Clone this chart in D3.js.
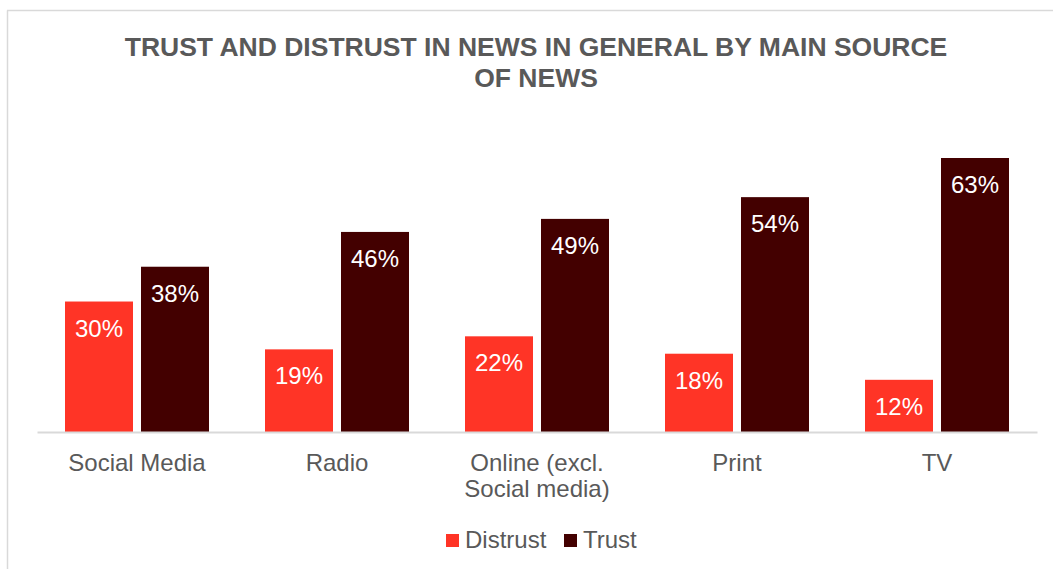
<!DOCTYPE html>
<html>
<head>
<meta charset="utf-8">
<script src="https://cdn.jsdelivr.net/npm/d3@7"></script>
<style>
  html, body { margin: 0; padding: 0; background: #fff; }
  svg { display: block; font-family: "Liberation Sans", Arial, sans-serif; }
</style>
</head>
<body>
<svg id="chart" width="1053" height="569"></svg>
<script>
const categories = [["Social Media"], ["Radio"], ["Online (excl.", "Social media)"], ["Print"], ["TV"]];
const seriesNames = ["Distrust", "Trust"];
const distrust = [30, 19, 22, 18, 12];
const trust = [38, 46, 49, 54, 63];
const colors = ["#ff3426", "#430000"];

const svg = d3.select("#chart");
const W = 1053, H = 569;
const margin = { left: 37, right: 16, top: 0, bottom: 0 };
const baseY = 432;

// frame
svg.append("line").attr("x1", 7.5).attr("x2", 7.5).attr("y1", 10.5).attr("y2", H)
  .attr("stroke", "#d9d9d9").attr("stroke-width", 1.5);
svg.append("line").attr("x1", 7).attr("x2", W).attr("y1", 10.5).attr("y2", 10.5)
  .attr("stroke", "#d9d9d9").attr("stroke-width", 1.5);

// title
const title = svg.append("text").attr("text-anchor", "middle")
  .attr("fill", "#595959").attr("font-weight", "bold").attr("font-size", 26.5);
title.append("tspan").attr("x", 536).attr("y", 56).text("TRUST AND DISTRUST IN NEWS IN GENERAL BY MAIN SOURCE");
title.append("tspan").attr("x", 536).attr("y", 87).text("OF NEWS");

const x0 = d3.scaleBand().domain(d3.range(categories.length)).range([37, 1037]).paddingInner(0).paddingOuter(0);
const x1 = d3.scaleBand().domain(seriesNames).range([28, 172]).paddingInner(8 / 76);
const y = d3.scaleLinear().domain([0, 63]).range([baseY, 158]);

const data = categories.map((c, i) => ({ i, values: [distrust[i], trust[i]] }));

const groups = svg.append("g").selectAll("g").data(data).join("g")
  .attr("transform", d => `translate(${x0(d.i)},0)`);

groups.selectAll("rect").data(d => d.values.map((v, k) => ({ v, k }))).join("rect")
  .attr("x", d => x1(seriesNames[d.k]))
  .attr("width", x1.bandwidth())
  .attr("y", d => y(d.v))
  .attr("height", d => baseY - y(d.v))
  .attr("fill", d => colors[d.k]);

groups.selectAll("text.lbl").data(d => d.values.map((v, k) => ({ v, k }))).join("text")
  .attr("class", "lbl")
  .attr("x", d => x1(seriesNames[d.k]) + x1.bandwidth() / 2)
  .attr("y", d => y(d.v) + 35)
  .attr("text-anchor", "middle")
  .attr("fill", "#ffffff")
  .attr("font-size", 24)
  .text(d => d.v + "%");

// axis
const axis = d3.axisBottom(x0).tickSize(0).tickFormat(() => "");
const ag = svg.append("g").attr("transform", `translate(0,${baseY})`).call(axis);
ag.select(".domain").attr("stroke", "#d9d9d9").attr("stroke-width", 2);
ag.selectAll(".tick").each(function (d) {
  const t = d3.select(this).append("text")
    .attr("text-anchor", "middle").attr("fill", "#595959")
    .attr("font-size", 24).attr("font-family", "Liberation Sans, Arial, sans-serif");
  categories[d].forEach((line, j) => {
    t.append("tspan").attr("x", 0).attr("y", 39 + j * 26).text(line);
  });
});

// legend
const legend = svg.append("g");
const legendItems = [{ name: "Distrust", x: 446 }, { name: "Trust", x: 564 }];
legendItems.forEach((it, k) => {
  legend.append("rect").attr("x", it.x).attr("y", 534).attr("width", 13).attr("height", 13).attr("fill", colors[k]);
  legend.append("text").attr("x", it.x + 19).attr("y", 548).attr("fill", "#595959")
    .attr("font-size", 24).text(it.name);
});
</script>
</body>
</html>
